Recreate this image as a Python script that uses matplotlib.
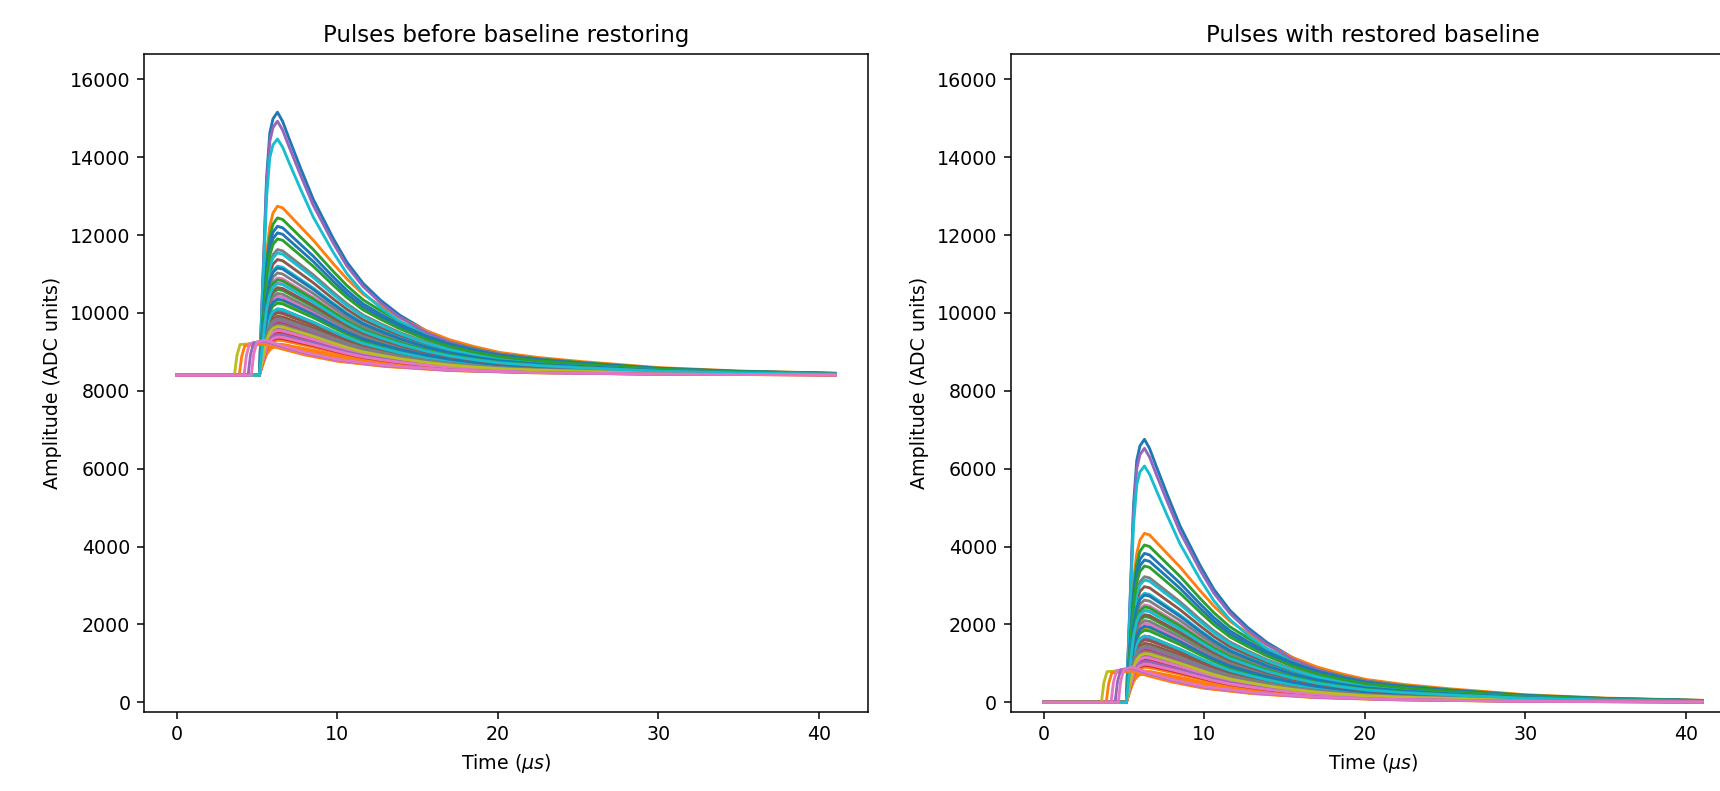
import numpy as np
import matplotlib

matplotlib.use("Agg")
import matplotlib.pyplot as plt  # type: ignore

# Baseline of the raw pulses (ADC units)
BASELINE = 8400

# Normalised pulse templates (peak = 1)
TIME_US = [0.0, 5.15, 5.3, 5.45, 5.6, 5.8, 6.0, 6.28, 6.6, 7.0, 7.7, 8.5,
           9.75, 10.6, 11.6, 12.7, 13.9, 15.5, 17.0, 18.5, 20.1, 22.5,
           25.3, 30.0, 35.0, 41.0]
# the three biggest pulses
SHAPE_FAST = [0.0, 0.0, 0.25, 0.5, 0.75, 0.92, 0.975, 1.0, 0.965, 0.9, 0.79,
              0.67, 0.52, 0.43, 0.35, 0.285, 0.228, 0.17, 0.13, 0.103, 0.083,
              0.062, 0.045, 0.025, 0.013, 0.006]
# the rest of the pulses decay more slowly
SHAPE_SLOW = [0.0, 0.0, 0.25, 0.5, 0.72, 0.88, 0.96, 1.0, 0.99, 0.95, 0.88,
              0.8, 0.66, 0.57, 0.48, 0.41, 0.34, 0.265, 0.21, 0.17, 0.135,
              0.105, 0.08, 0.045, 0.025, 0.012]
FAST_ABOVE = 5000

# Peak amplitude above baseline of each pulse (ADC units)
PULSE_AMP = [6754, 4340, 4040, 1500, 6523, 2970, 2500, 3226, 1900, 6068,
             3824, 740, 2200, 1340, 1640, 1700, 2370, 2625, 1100, 3140,
             3655, 900, 3500, 1210, 1400, 1510, 2025, 1300, 1050, 2800,
             2755, 1000, 1850, 1080, 1200, 1600, 1150, 2100, 1000, 1700,
             1950, 800, 2450, 950, 1050, 2250, 980, 1450, 1250, 2350]

# Early (pre-trigger) pulses: onset time, amplitude, colour
EARLY_ONSET = [3.6, 3.9, 4.2, 4.45, 4.65]
EARLY_AMP = [830, 800, 860, 880, 900]
EARLY_COLOR = ["C8", "C1", "C6", "C4", "C6"]
EARLY_TAIL_T = [5.5, 6.5, 8.0, 10.0, 13.0, 17.0, 22.0, 30.0, 41.0]
EARLY_TAIL = [1.0, 0.85, 0.65, 0.45, 0.28, 0.15, 0.08, 0.03, 0.01]

if __name__ == "__main__":
    fig = plt.figure(figsize=(1720 / 137, 791 / 137), dpi=137)
    ax1 = fig.add_axes([0.08355, 0.10025, 0.4211, 0.8319])
    ax2 = fig.add_axes([0.5876, 0.10025, 0.4211, 0.8319])

    t = np.array(TIME_US)
    fast = np.array(SHAPE_FAST)
    slow = np.array(SHAPE_SLOW)
    for ax, base in [(ax1, BASELINE), (ax2, 0)]:
        for amp in PULSE_AMP:
            shape = fast if amp > FAST_ABOVE else slow
            ax.plot(t, base + amp * shape)
        for onset, amp, col in zip(EARLY_ONSET, EARLY_AMP, EARLY_COLOR):
            te = np.array([0.0, onset, onset + 0.15, onset + 0.35] + EARLY_TAIL_T)
            ye = np.array([0.0, 0.0, 0.6, 0.95] + EARLY_TAIL)
            ax.plot(te, base + amp * ye, color=col)

        ax.set_xlim(-2.05, 43.05)
        ax.set_ylim(-241, 16657)
        ax.set_xlabel(r"Time ($\mu s$)")
        ax.set_ylabel("Amplitude (ADC units)")

    ax1.set_title("Pulses before baseline restoring")
    ax2.set_title("Pulses with restored baseline")

    fig.savefig("out.png", dpi=137)
